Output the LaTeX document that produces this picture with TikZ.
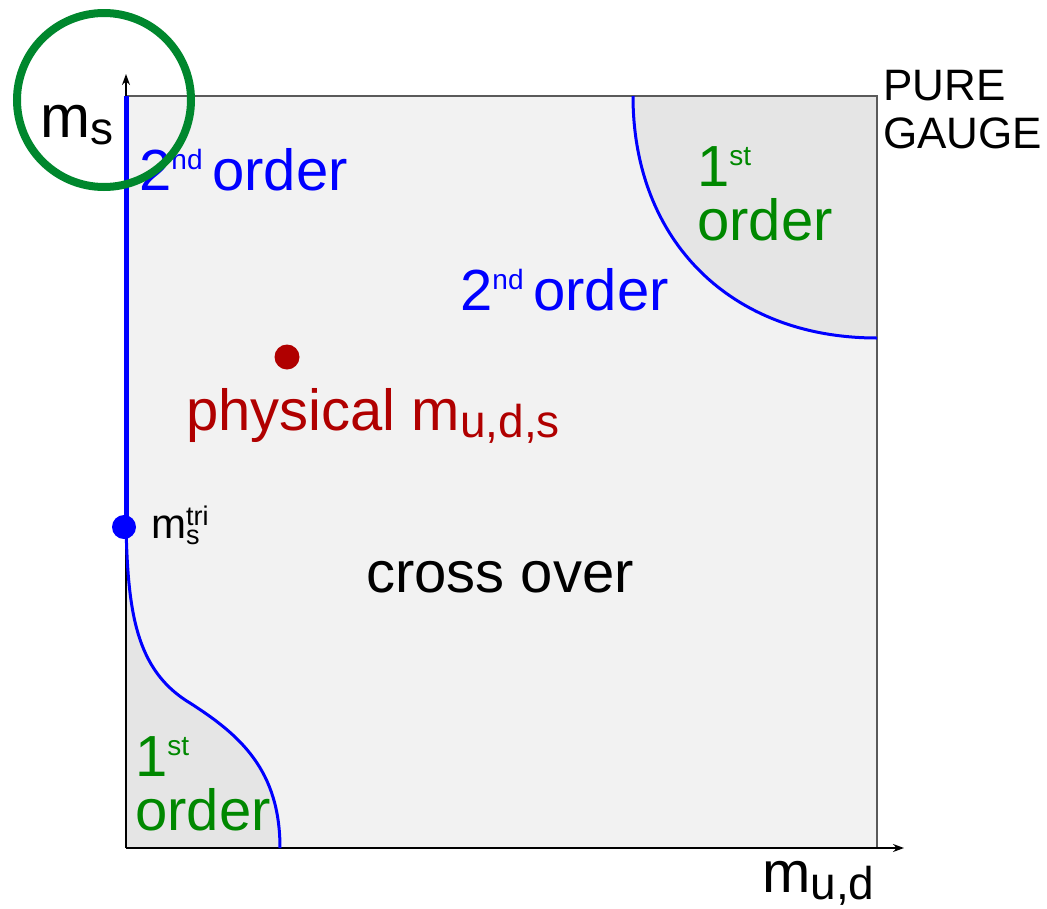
\documentclass[tikz,border=0pt]{standalone}
\usepackage{fontspec}
\setmainfont{Liberation Sans}
\usetikzlibrary{arrows.meta}
\definecolor{bluec}{RGB}{0,0,255}
\definecolor{greent}{RGB}{0,136,0}
\definecolor{greenc}{RGB}{0,135,45}
\definecolor{redc}{RGB}{176,0,0}
\definecolor{boxfill}{RGB}{242,242,242}
\definecolor{firstfill}{RGB}{229,229,229}
\definecolor{boxline}{RGB}{90,90,90}
\newcommand{\ordsup}[1]{\raisebox{21pt}{\fontsize{28}{30}\selectfont #1}}
\newcommand{\lowsub}[1]{\raisebox{-7pt}{\fontsize{46}{48}\selectfont #1}}
\begin{document}
\begin{tikzpicture}[x=1pt,y=-1pt,
  lbl/.style={inner sep=0pt, anchor=base west, font=\fontsize{58}{64}\selectfont},
  axis/.style={black, line width=1.5pt, -{Stealth[length=11pt,width=8pt]}},
  pline/.style={bluec, line width=3pt}]
\useasboundingbox (0,0) rectangle (1047,908);
% coordinates
\coordinate (O) at (126,848);
\coordinate (TL) at (126,96);
\coordinate (TR) at (877,96);
\coordinate (BR) at (877,848);
\coordinate (yend) at (126,74);
\coordinate (xend) at (904,848);
\coordinate (tri) at (126,526);
\coordinate (blb) at (280,848);
\coordinate (blm) at (190,703);
\coordinate (trt) at (633,96);
\coordinate (trr) at (877,338);
% regions
\fill[boxfill] (TL) rectangle (BR);
\fill[firstfill] (tri) .. controls (128,610) and (135,670) .. (blm) .. controls (240,735) and (280,770) .. (blb) -- (O) -- cycle;
\fill[firstfill] (trt) .. controls (633,241) and (731,338) .. (trr) -- (TR) -- cycle;
\draw[boxline, line width=1.5pt] (TL) -- (TR) -- (BR);
% axes
\draw[axis] (O) -- (yend);
\draw[axis] (O) -- (xend);
% phase lines
\draw[bluec, line width=5pt] (TL) -- (tri);
\draw[pline] (tri) .. controls (128,610) and (135,670) .. (blm) .. controls (240,735) and (280,770) .. (blb);
\draw[pline] (trt) .. controls (633,241) and (731,338) .. (trr);
\fill[bluec] (124,527) circle (12);
\fill[redc] (287,357) circle (12.5);
% labels
\node[lbl, font=\fontsize{60}{64}\selectfont] (ms) at (40,137) {m\lowsub{s}};
\node[lbl, bluec] (sec1) at (139,190) {2\ordsup{nd}\,order};
\node[lbl, bluec] (sec2) at (460,310) {2\ordsup{nd}\,order};
\node[lbl, redc] (phys) at (186,430) {physical m\lowsub{u,d,s}};
\node[lbl] (cross) at (366,592) {cross over};
\node[lbl, font=\fontsize{42}{46}\selectfont] (mtri) at (151,538) {m\raisebox{-6pt}{\fontsize{27}{29}\selectfont\rlap{s}}\raisebox{13pt}{\fontsize{27}{29}\selectfont tri}};
\node[lbl, greent, align=left, anchor=north west] (fo1) at (697,146) {1\ordsup{st}\\[-10pt]order};
\node[lbl, greent, align=left, anchor=north west] (fo2) at (135,736) {1\ordsup{st}\\[-10pt]order};
\node[lbl, font=\fontsize{44}{46}\selectfont, align=left, anchor=north west] (pure) at (883,70) {PURE\\[2pt]GAUGE};
\node[lbl] (mud) at (762,892) {m\lowsub{u,d}};
% highlight circle
\draw[greenc, line width=8pt] (104,100) circle (87);
\end{tikzpicture}
\end{document}
